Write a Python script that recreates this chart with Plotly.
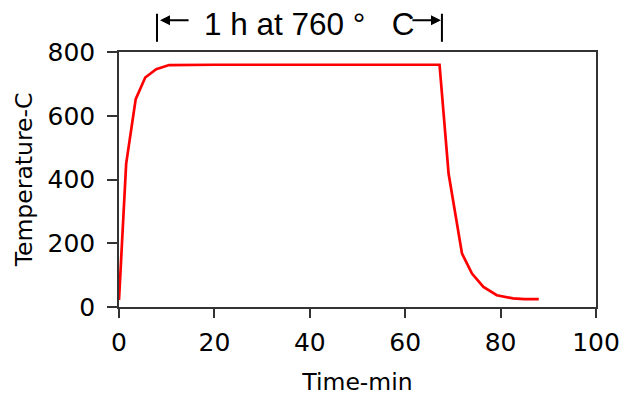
import plotly.graph_objects as go

time_min = [0, 1.5, 3.5, 5.5, 7.8, 10.5, 20, 40, 60, 67.2, 69.1, 71.9, 74, 76.4, 79.2, 82.6, 85, 88]
temp_c = [22, 449, 652, 720, 746, 759, 760, 760, 760, 760, 418, 168, 105, 63, 37, 27, 25, 25]

x_ticks = [0, 20, 40, 60, 80, 100]
y_ticks = [0, 200, 400, 600, 800]

hold_start = 7.97
hold_end = 67.7
label = "1 h at 760 \u00b0\u00a0\u00a0 C"

axis_font = "DejaVu Sans, sans-serif"
ann_font = "Liberation Sans, Arial, sans-serif"

fig = go.Figure()
fig.add_trace(go.Scatter(x=time_min, y=temp_c, mode="lines",
                         line=dict(color="#ff0000", width=2.7), showlegend=False))

axis_common = dict(showgrid=False, zeroline=False, showline=True, linecolor="#333333",
                   linewidth=1.5, mirror=True, ticks="outside", tickcolor="#333333",
                   tickwidth=1.5, automargin=False,
                   tickfont=dict(family=axis_font, size=25, color="#000000"))

fig.update_xaxes(range=[0, 100], tickvals=x_ticks, ticklen=9, ticklabelstandoff=3,
                 title=dict(text="Time-min", font=dict(family=axis_font, size=23.5, color="#000000"), standoff=29),
                 **axis_common)
fig.update_yaxes(range=[0, 800], tickvals=y_ticks, ticklen=10, ticklabelstandoff=7,
                 title=dict(text="Temperature-C", font=dict(family=axis_font, size=23.5, color="#000000"), standoff=8),
                 **axis_common)

for xv in (hold_start, hold_end):
    fig.add_shape(type="line", xref="x", yref="paper", x0=xv, x1=xv, y0=1.04, y1=1.15,
                  line=dict(color="#000000", width=2))

# arrows pointing to the hold-period bars
fig.add_annotation(x=8.6, y=1.125, xref="x", yref="paper", ax=14.9, ay=0,
                   axref="x", ayref="pixel", text="", showarrow=True,
                   arrowhead=2, arrowsize=1, arrowwidth=2, arrowcolor="#000000")
fig.add_annotation(x=67.5, y=1.125, xref="x", yref="paper", ax=61.2, ay=0,
                   axref="x", ayref="pixel", text="", showarrow=True,
                   arrowhead=2, arrowsize=1, arrowwidth=2, arrowcolor="#000000")

fig.add_annotation(x=39.8, y=1.11, xref="x", yref="paper", xanchor="center", yanchor="middle",
                   text=label, showarrow=False,
                   font=dict(family=ann_font, size=31.5, color="#000000"))

fig.update_layout(width=621, height=396, margin=dict(l=119, r=25, t=52, b=89),
                  paper_bgcolor="white", plot_bgcolor="white")

fig.write_html("out.html", config={"displayModeBar": False},
               post_script="document.body.style.margin='0';")
